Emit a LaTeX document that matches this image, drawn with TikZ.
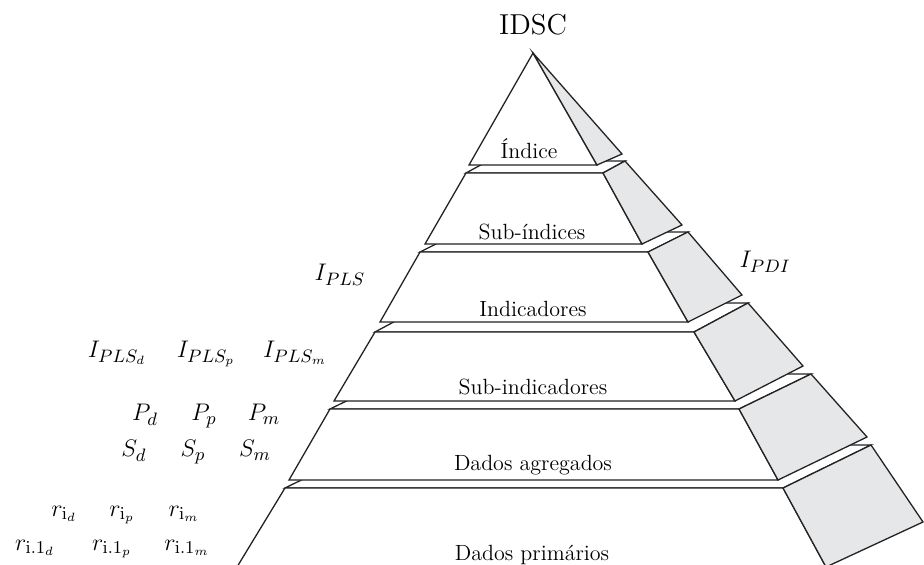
\documentclass[tikz,border=0pt]{standalone}
\usepackage{amsmath,amssymb}
\usepackage{xcolor}
\usepackage{tikz}

\definecolor{sidegray}{RGB}{230,231,232}
\definecolor{edgegray}{RGB}{35,35,35}

\begin{document}
\begin{tikzpicture}[
  x=0.5pt, y=-0.5pt,
  face/.style={draw=edgegray, line width=0.65pt, fill=white},
  side/.style={draw=edgegray, line width=0.65pt, fill=sidegray},
  lvl/.style={font=\fontsize{11}{13}\selectfont, inner sep=0pt, anchor=base},
  sym/.style={font=\fontsize{12.6}{14}\selectfont, inner sep=0pt, anchor=base}
]
  \useasboundingbox (0,0) rectangle (924,565);

  % blocks from the base up: top y / top left / top right / bottom y / bottom left / bottom right / top depth / bottom depth
  \foreach \ty/\tl/\tr/\by/\bl/\br/\dtx/\dty/\dbx/\dby in {
      488/285/783/567/237/826/88/-43/97/-45,
      409/330/739/480/289/778/72/-35/89/-43,
      332/375/694/401/334/735/54/-29/68/-35,
      252/420/648/322/380/688/40/-20/54/-27,
      173/466/603/244/425/642/22/-12/40/-19,
      53/533/533/165/469/597/0/0/25/-11}{
    \draw[face] (\tl,\ty) -- (\tr,\ty) -- ++(\dtx,\dty) -- ++({\tl-\tr},0) -- cycle;
    \draw[face] (\tl,\ty) -- (\tr,\ty) -- (\br,\by) -- (\bl,\by) -- cycle;
    \draw[side] (\tr,\ty) -- ++(\dtx,\dty) -- ({\br+\dbx},{\by+\dby}) -- (\br,\by) -- cycle;
  }

  % level names
  \node[lvl, font=\fontsize{14.4}{16}\selectfont] (idsc) at (533,35) {IDSC};
  \node[lvl] (indice) at (529,159) {Índice};
  \node[lvl] (subind) at (532,240) {Sub-índices};
  \node[lvl] (indic) at (533,317) {Indicadores};
  \node[lvl] (subindic) at (533,395) {Sub-indicadores};
  \node[lvl] (agreg) at (533,471) {Dados agregados};
  \node[lvl] (prim) at (532,560) {Dados primários};

  % symbols
  \node[sym] (ipls) at (340,281) {$I_{PLS}$};
  \node[sym] (ipdi) at (765,268) {$I_{PDI}$};
  \node[sym] (iplsd) at (117,358) {$I_{PLS_d}$};
  \node[sym] (iplsp) at (206,358) {$I_{PLS_p}$};
  \node[sym] (iplsm) at (295,358) {$I_{PLS_m}$};
  \node[sym] (pd) at (145,421) {$P_d$};
  \node[sym] (pp) at (204,421) {$P_p$};
  \node[sym] (pm) at (264,421) {$P_m$};
  \node[sym] (sd) at (134,457) {$S_d$};
  \node[sym] (sp) at (193,457) {$S_p$};
  \node[sym] (sm) at (255,457) {$S_m$};
  \node[sym] (rid) at (64,516) {$r_{\mathrm{i}_d}$};
  \node[sym] (rip) at (122,516) {$r_{\mathrm{i}_p}$};
  \node[sym] (rim) at (184,516) {$r_{\mathrm{i}_m}$};
  \node[sym] (rnd) at (35,550) {$r_{\mathrm{i.1}_d}$};
  \node[sym] (rnp) at (112,550) {$r_{\mathrm{i.1}_p}$};
  \node[sym] (rnm) at (187,550) {$r_{\mathrm{i.1}_m}$};
\end{tikzpicture}
\end{document}
